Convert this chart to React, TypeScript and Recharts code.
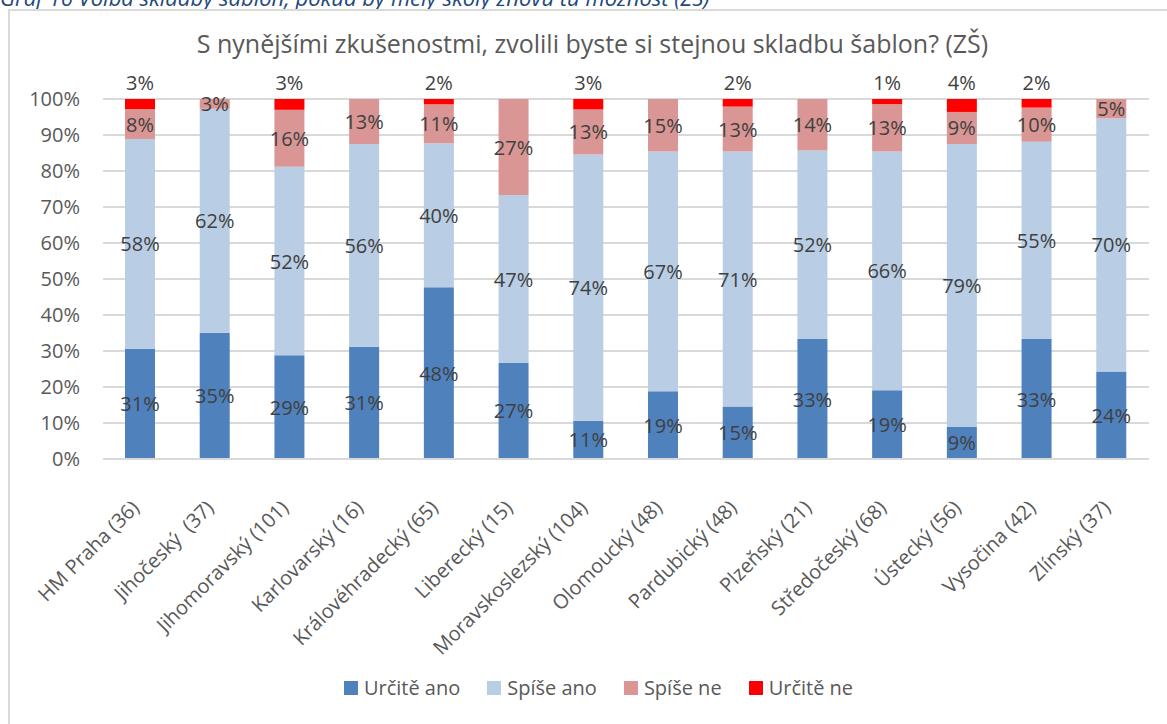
import { BarChart, Bar, XAxis, YAxis, CartesianGrid, LabelList } from 'recharts';

// Kraje a počty škol (n) v závorce
const regions = [
    'HM Praha (36)',
    'Jihočeský  (37)',
    'Jihomoravský (101)',
    'Karlovarský (16)',
    'Královéhradecký (65)',
    'Liberecký (15)',
    'Moravskoslezský (104)',
    'Olomoucký (48)',
    'Pardubický (48)',
    'Plzeňský (21)',
    'Středočeský (68)',
    'Ústecký (56)',
    'Vysočina (42)',
    'Zlínský (37)',
];

// podíly v % (100% skládaný sloupec)
const urciteAno = [30.6, 35.1, 28.8, 31.2, 47.7, 26.7, 10.6, 18.8, 14.6, 33.3, 19.1, 8.9, 33.3, 24.3];
const spiseAno = [58.3, 62.2, 52.4, 56.3, 40.0, 46.6, 74.0, 66.6, 70.8, 52.4, 66.3, 78.6, 54.8, 70.3];
const spiseNe = [8.3, 2.7, 15.8, 12.5, 10.8, 26.7, 12.5, 14.6, 12.5, 14.3, 13.2, 8.9, 9.5, 5.4];
const urciteNe = [2.8, 0, 3.0, 0, 1.5, 0, 2.9, 0, 2.1, 0, 1.4, 3.6, 2.4, 0];

const yTicks = [0, 10, 20, 30, 40, 50, 60, 70, 80, 90, 100];

const series = [
    { key: 'urciteAno', name: 'Určitě ano', color: '#4F81BD' },
    { key: 'spiseAno', name: 'Spíše ano', color: '#B9CDE5' },
    { key: 'spiseNe', name: 'Spíše ne', color: '#D99694' },
    { key: 'urciteNe', name: 'Určitě ne', color: '#FF0000' },
];

const chartData = regions.map((name, i) => ({
    name,
    urciteAno: urciteAno[i],
    spiseAno: spiseAno[i],
    spiseNe: spiseNe[i],
    urciteNe: urciteNe[i],
}));

const FONT = '"Open Sans", sans-serif';
const TEXT = '#404040';

const CategoryTick = (props: any) => {
    const { x, y, payload } = props;
    return (
        <g transform={`translate(${x - 5},${y + 37})`}>
            <text
                textAnchor="end"
                transform="rotate(-45)"
                dy="0.35em"
                fill="#595959"
                fontSize={20}
                fontFamily={FONT}
                style={{ whiteSpace: 'pre' }}
            >
                {payload.value}
            </text>
        </g>
    );
};

const centerLabel = (props: any) => {
    const { x, y, width, height, value } = props;
    if (!value) return null;
    return (
        <text
            x={x + width / 2}
            y={y + height / 2}
            textAnchor="middle"
            dominantBaseline="central"
            fill={TEXT}
            fontSize={20}
            fontFamily={FONT}
        >
            {Math.round(value)}%
        </text>
    );
};

// malé segmenty "Určitě ne" mají popisek nad sloupcem
const topLabel = (props: any) => {
    const { x, y, width, value } = props;
    if (!value) return null;
    return (
        <text
            x={x + width / 2}
            y={y - 17}
            textAnchor="middle"
            dominantBaseline="central"
            fill={TEXT}
            fontSize={20}
            fontFamily={FONT}
        >
            {Math.round(value)}%
        </text>
    );
};

export default function App() {
    return (
        <div style={{ position: 'relative', width: 1167, height: 724, overflow: 'hidden', background: '#fff' }}>
            <style>{'body{margin:0}'}</style>
            {/* popisek grafu nad rámečkem (v originále oříznutý) */}
            <div
                style={{
                    position: 'absolute',
                    left: 0,
                    top: -18,
                    fontFamily: FONT,
                    fontStyle: 'italic',
                    fontSize: 22,
                    color: '#1F497D',
                    whiteSpace: 'nowrap',
                }}
            >
                Graf 16 Volba skladby šablon, pokud by měly školy znovu tu možnost (ZŠ)
            </div>
            <div
                style={{
                    position: 'absolute',
                    left: 8,
                    top: 9,
                    width: 1200,
                    height: 800,
                    borderLeft: '2px solid #D9D9D9',
                    borderTop: '2px solid #D9D9D9',
                }}
            />
            <div
                style={{
                    position: 'absolute',
                    left: 0,
                    top: 26,
                    width: 1167,
                    textAlign: 'center',
                    paddingLeft: 18,
                    boxSizing: 'border-box',
                    fontFamily: FONT,
                    fontSize: 25,
                    color: '#595959',
                }}
            >
                S nynějšími zkušenostmi, zvolili byste si stejnou skladbu šablon? (ZŠ)
            </div>
            <div style={{ position: 'absolute', left: 0, top: 0 }}>
                <BarChart
                    width={1167}
                    height={724}
                    data={chartData}
                    margin={{ top: 99, right: 18, left: 32, bottom: 0 }}
                    barSize={30}
                >
                    <CartesianGrid vertical={false} stroke="#D9D9D9" strokeWidth={2} />
                    <XAxis
                        dataKey="name"
                        interval={0}
                        tickLine={false}
                        axisLine={{ stroke: '#D9D9D9', strokeWidth: 2 }}
                        tick={<CategoryTick />}
                        height={265}
                    />
                    <YAxis
                        width={71}
                        domain={[0, 100]}
                        ticks={yTicks}
                        allowDataOverflow
                        tickFormatter={(v) => `${v}%`}
                        tickLine={false}
                        axisLine={false}
                        tickSize={0}
                        tickMargin={23}
                        tick={{ fill: '#595959', fontSize: 20, fontFamily: FONT }}
                    />
                    {series.map((s) => (
                        <Bar
                            key={s.key}
                            dataKey={s.key}
                            name={s.name}
                            stackId="a"
                            fill={s.color}
                            isAnimationActive={false}
                        >
                            <LabelList dataKey={s.key} content={s.key === 'urciteNe' ? topLabel : centerLabel} />
                        </Bar>
                    ))}
                </BarChart>
            </div>
            {/* legenda */}
            <div
                style={{
                    position: 'absolute',
                    left: 0,
                    top: 674,
                    width: 1167,
                    paddingLeft: 30,
                    boxSizing: 'border-box',
                    display: 'flex',
                    justifyContent: 'center',
                    gap: 27,
                    fontFamily: FONT,
                    fontSize: 20,
                    color: '#595959',
                }}
            >
                {series.map((s) => (
                    <div key={s.key} style={{ display: 'flex', alignItems: 'center' }}>
                        <span style={{ width: 14, height: 14, background: s.color, marginRight: 6, display: 'inline-block' }} />
                        <span>{s.name}</span>
                    </div>
                ))}
            </div>
        </div>
    );
}
